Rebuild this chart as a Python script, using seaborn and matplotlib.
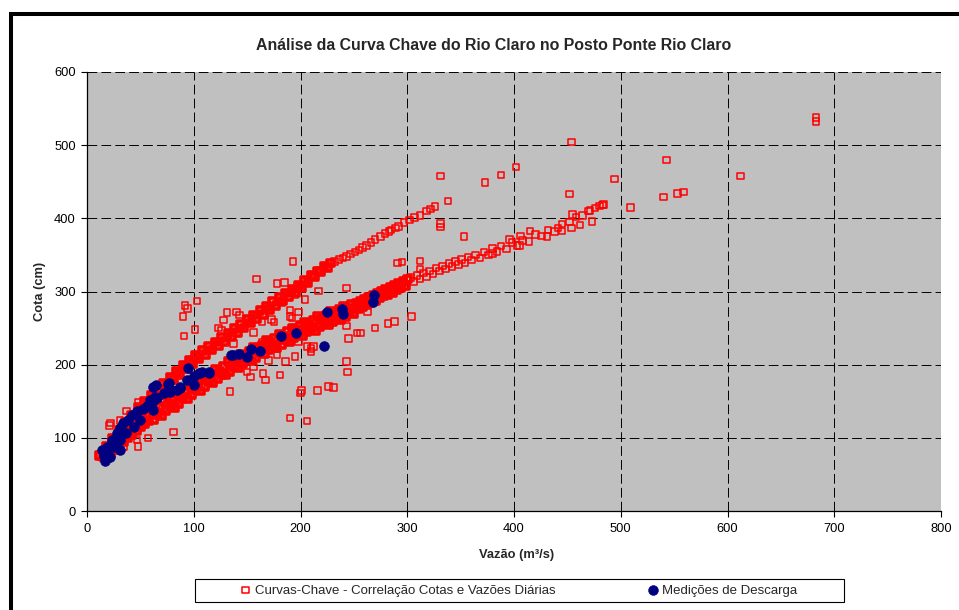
import matplotlib
matplotlib.use("Agg")
import matplotlib.pyplot as plt
import seaborn as sns
import pandas as pd
from matplotlib.patches import Rectangle

# curva chave - ramo superior, trecho denso (vazao m3/s, cota cm)
upper_q = [12, 15, 18, 21, 24, 27, 30, 33, 36, 39, 42, 45, 48, 51, 54, 57, 60, 63, 66, 69,
           72, 75, 78, 81, 84, 87, 90, 93, 96, 99, 102, 105, 108, 111, 114, 117, 120, 123, 126, 129,
           132, 135, 138, 141, 144, 147, 150, 153, 156, 159, 162, 165, 168, 171, 174, 177, 180, 183, 186, 189,
           192, 195, 198, 201, 204, 207, 210, 213, 216, 219, 222, 225, 228]
upper_h = [76, 74, 88, 86, 99, 97, 110, 107, 121, 118, 131, 128, 141, 137, 150, 146, 158, 154, 166, 163,
           175, 171, 183, 179, 191, 187, 199, 195, 206, 202, 213, 208, 219, 214, 225, 220, 231, 226, 237, 232,
           243, 238, 249, 244, 255, 250, 262, 257, 268, 263, 274, 269, 280, 275, 286, 281, 292, 287, 298, 293,
           303, 299, 309, 305, 315, 312, 322, 320, 328, 327, 334, 333, 339]
# ramo superior, leituras isoladas no fim da curva
upper_tail_q = [232, 236, 240, 243, 247, 251, 255, 258, 262, 266, 270, 275, 279, 283, 285, 289, 292, 297,
                302, 307, 312, 318, 322, 326]
upper_tail_h = [341, 344, 346, 348, 351, 354, 357, 360, 363, 367, 371, 375, 379, 382, 384, 387, 389, 394,
                398, 401, 404, 410, 413, 416]

# curva chave - ramo inferior, trecho denso
lower_q = [16, 18, 20, 22, 24, 26, 28, 30, 32, 34, 36, 38, 40, 42, 44, 46, 48, 50, 52, 54, 56, 58,
           60, 62, 64, 66, 68, 70, 72, 74, 76, 78, 80, 82, 84, 86, 88, 90, 92, 94, 96, 98,
           100, 102, 104, 106, 108, 110, 112, 114, 116, 118, 120, 122, 124, 126, 128, 130, 132, 134, 136, 138,
           140, 142, 144, 146, 148, 150, 152, 154, 156, 158, 160, 162, 164, 166, 168, 170, 172, 174, 176, 178,
           180, 182, 184, 186, 188, 190, 192, 194, 196, 198, 200, 202, 204, 206, 208, 210, 212, 214, 216, 218,
           220, 222, 224, 226, 228, 230, 232, 234, 236, 238, 240, 242, 244, 246, 248, 250,
           252, 254, 256, 258, 260, 262, 264, 266, 268, 270, 272, 274, 276, 278, 280, 282, 284, 286, 288, 290,
           292, 294, 296, 298, 300]
lower_h = [78, 73, 84, 79, 90, 84, 95, 90, 101, 95, 106, 100, 111, 105, 116, 110, 121, 115, 125, 119, 130, 124,
           138, 125, 136, 132, 143, 131, 150, 137, 147, 143, 154, 142, 161, 147, 158, 154, 165, 153, 172, 159,
           170, 166, 177, 164, 183, 170, 181, 177, 187, 175, 194, 181, 191, 187, 198, 186, 204, 191, 202, 197,
           208, 196, 214, 201, 211, 207, 218, 205, 224, 210, 221, 217, 227, 215, 233, 220, 230, 226, 236, 224,
           242, 228, 239, 234, 245, 232, 250, 237, 247, 243, 253, 240, 258, 245, 255, 250, 260, 247, 266, 252,
           262, 257, 267, 255, 273, 259, 269, 264, 275, 262, 280, 266, 277, 272, 282, 270,
           284, 277, 286, 280, 289, 282, 292, 285, 295, 288, 297, 291, 300, 294, 303, 296, 306, 299, 309, 302,
           311, 305, 314, 308, 317]
# ramo inferior, cheias maiores
lower_tail_q = [303, 306, 309, 312, 315, 318, 321, 324, 327, 330, 333, 336, 339, 342, 345, 348, 351, 354, 357, 360,
                364, 368, 372, 376, 380, 384, 388, 393, 398, 403, 408, 414, 420, 426, 432, 438, 445, 452, 458, 464,
                470, 476, 480, 484]
lower_tail_h = [319, 314, 322, 317, 325, 320, 328, 324, 332, 328, 335, 331, 338, 334, 341, 337, 344, 339, 347, 343,
                350, 346, 354, 350, 359, 355, 362, 358, 367, 363, 370, 368, 378, 376, 384, 382, 392, 395, 402, 404,
                410, 414, 417, 419]

# leituras dispersas
out_q = [34, 48, 47, 57, 81, 21, 22, 31, 37, 48,
         90, 91, 92, 94, 101, 103, 123, 126, 128, 131, 137, 140, 143, 156, 159, 164, 164, 173, 175,
         178, 182, 185, 190, 190, 192, 193, 195, 198, 198, 204, 209, 217, 243,
         134, 153, 167, 150, 156, 165, 181, 178, 170, 186, 195, 206,
         190, 200, 201, 206, 216, 226, 231, 243, 244, 243, 245, 253, 256, 263, 270, 282, 288, 304,
         210, 210, 212,
         291, 295, 312, 312, 331, 331, 331, 338, 353, 373, 388, 402, 396, 406,
         380, 405, 415, 431, 441, 445, 454, 455, 462, 471, 473, 483,
         452, 454, 494, 509, 540, 543, 553, 559, 612, 683, 683]
out_h = [88, 88, 97, 100, 108, 117, 120, 124, 137, 149,
         266, 239, 281, 277, 248, 287, 250, 247, 261, 271, 229, 272, 268, 244, 317, 231, 259, 262, 258,
         311, 284, 312, 266, 275, 264, 341, 295, 272, 231, 289, 250, 301, 305,
         163, 183, 179, 190, 197, 188, 186, 213, 206, 204, 211, 225,
         127, 161, 165, 123, 165, 170, 169, 204, 190, 253, 236, 243, 243, 273, 250, 256, 259, 266,
         222, 218, 225,
         339, 340, 342, 331, 393, 388, 458, 424, 375, 449, 459, 470, 371, 376,
         352, 363, 383, 375, 387, 383, 387, 405, 391, 411, 396, 418,
         433, 504, 454, 415, 429, 480, 434, 436, 458, 538, 532]

# medicoes de descarga
blue_q = [17, 16, 14, 19, 19, 22, 23, 25, 28, 31, 31, 31, 34, 37, 38, 42, 44, 47, 50, 52,
          56, 59, 61, 62, 62, 64, 65, 66, 72, 76, 77, 78, 79, 84, 87, 87, 94, 95, 97, 100,
          100, 105, 106, 108, 114, 114, 135, 137, 142, 150, 154, 162, 182, 196, 222, 225, 239, 240, 268, 269]
blue_h = [68, 75, 83, 79, 88, 74, 97, 88, 106, 97, 83, 113, 120, 106, 124, 131, 115, 136, 124, 140,
          143, 152, 147, 138, 170, 156, 172, 154, 161, 174, 175, 163, 165, 166, 168, 170, 179, 195, 179, 172,
          184, 188, 188, 190, 190, 188, 213, 213, 215, 211, 222, 218, 239, 243, 226, 272, 276, 269, 285, 295]

x_ticks = [0, 100, 200, 300, 400, 500, 600, 700, 800]
y_ticks = [0, 100, 200, 300, 400, 500, 600]

label_red = 'Curvas-Chave - Correlação Cotas e Vazões Diárias'
label_blue = 'Medições de Descarga'

sns.set_style("ticks")
plt.rcParams['font.family'] = ['Liberation Sans', 'DejaVu Sans']

W, H = 959, 610
fig = plt.figure(figsize=(W / 100, H / 100), dpi=100)
ax = fig.add_axes([87 / W, 1 - 511 / H, 854 / W, 439 / H])
ax.set_facecolor('#C0C0C0')

dense = pd.DataFrame({'q': upper_q + lower_q, 'h': upper_h + lower_h})
sparse = pd.DataFrame({'q': upper_tail_q + lower_tail_q + out_q,
                       'h': upper_tail_h + lower_tail_h + out_h})
blue = pd.DataFrame({'q': blue_q, 'h': blue_h})

# the dense stretches are thousands of overlapping daily squares in the original
sns.scatterplot(data=dense, x='q', y='h', marker='s', s=24, facecolor='none', edgecolor='#FF0000',
                linewidth=2.6, ax=ax, zorder=3)
sns.scatterplot(data=sparse, x='q', y='h', marker='s', s=22, facecolor='none', edgecolor='#FF0000',
                linewidth=1.1, label=label_red, ax=ax, zorder=3)
sns.scatterplot(data=blue, x='q', y='h', marker='o', s=50, color='#000080', edgecolor='#000080',
                linewidth=0.4, label=label_blue, ax=ax, zorder=4)

ax.set_xlim(0, 800)
ax.set_ylim(0, 600)
ax.set_xticks(x_ticks)
ax.set_yticks(y_ticks)
ax.grid(True, color='black', linestyle=(0, (10, 4.3)), linewidth=0.7)
ax.set_axisbelow(True)
for side in ['top', 'right']:
    ax.spines[side].set_visible(False)
for side in ['left', 'bottom']:
    ax.spines[side].set_color('black')
    ax.spines[side].set_linewidth(0.9)
ax.tick_params(direction='out', length=4, width=0.8, color='black', labelsize=9.3, labelcolor='black')
ax.tick_params(axis='x', pad=5)
ax.tick_params(axis='y', pad=4)

ax.set_xlabel('Vazão (m³/s)', fontsize=9.3, fontweight='bold', va='center')
ax.xaxis.set_label_coords(0.503, -0.1)
ax.set_ylabel('Cota (cm)', fontsize=9.3, fontweight='bold', va='center')
ax.yaxis.set_label_coords(-0.055, 0.5)

fig.text(494 / W, 1 - 46 / H, 'Análise da Curva Chave do Rio Claro no Posto Ponte Rio Claro',
         ha='center', va='center', fontsize=11.4, fontweight='bold')

handles, labels = ax.get_legend_handles_labels()
if ax.get_legend() is not None:
    ax.get_legend().remove()
fig.add_artist(Rectangle((195 / W, 1 - 602 / H), 649 / W, 23 / H, transform=fig.transFigure,
                         facecolor='white', edgecolor='black', linewidth=0.8, zorder=1))
fig.legend(handles, labels, loc='center', bbox_to_anchor=(518 / W, 1 - 590.5 / H), ncol=2,
           frameon=False, fontsize=9.5, handletextpad=0.2, columnspacing=6.9, handlelength=1.0)

# moldura da area do grafico (cortada a direita e em baixo)
fig.add_artist(Rectangle((11 / W, -0.3), 1.5, 1 - 14 / H + 0.3, transform=fig.transFigure,
                         fill=False, edgecolor='black', linewidth=2.9, zorder=2))

fig.savefig('out.png', dpi=100, facecolor='white')
plt.close(fig)
